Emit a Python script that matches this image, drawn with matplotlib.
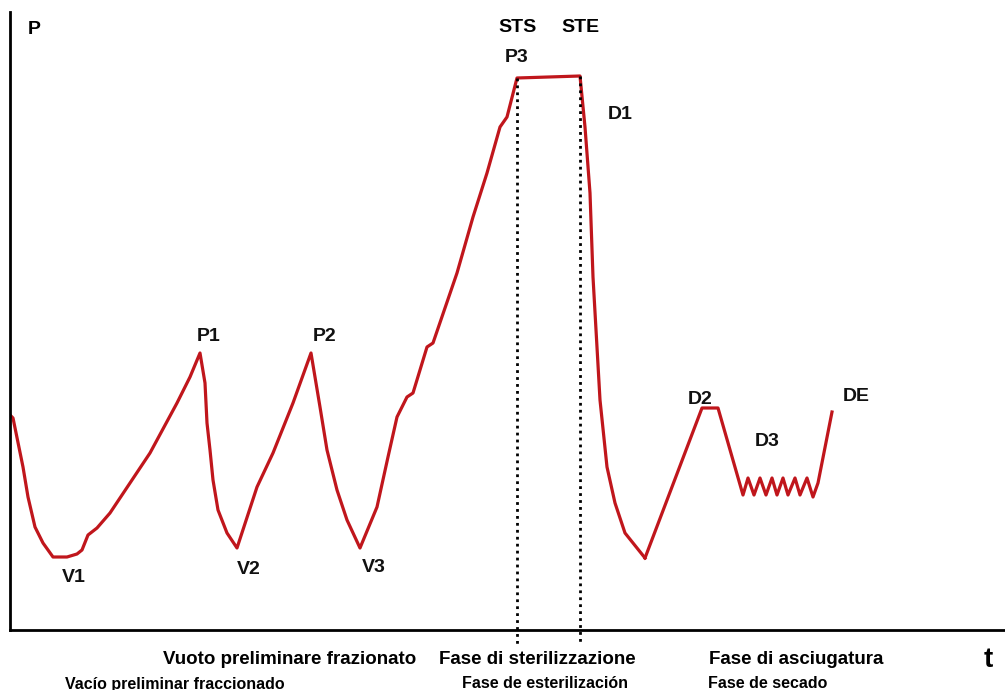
import matplotlib.pyplot as plt

plt.rcParams['font.family'] = ['Liberation Sans', 'DejaVu Sans']

# pressure curve (t, P), arbitrary units
t_curve = [0, 3, 13, 18, 25, 33, 43, 57, 67, 72, 78, 87, 100, 120, 140, 167, 180, 190,
           195, 197, 200, 203, 208, 217, 227,
           247, 263, 283, 301,
           310, 317, 327, 337, 350,
           367, 378, 387, 397, 403, 417, 423, 447, 463, 477, 490, 497, 507,
           570,
           575, 580, 583, 590, 597, 605, 615, 635]
p_curve = [215, 212, 163, 133, 103, 87, 73, 73, 76, 80, 95, 102, 117, 147, 177, 227, 253, 277,
           247, 207, 180, 150, 120, 97, 82,
           143, 177, 227, 277,
           223, 180, 140, 110, 82,
           123, 173, 213, 233, 237, 283, 287, 357, 413, 457, 503, 513, 552,
           554,
           503, 437, 353, 230, 163, 127, 97, 72]

# drying phase: ramp, hold at D2, pulses at D3, rise to DE
t_dry = [635, 692, 708, 733, 738, 744, 750, 756, 762, 767, 773, 778, 785, 790, 797,
         803, 808, 822]
p_dry = [72, 222, 222, 135, 152, 135, 152, 135, 152, 135, 152, 135, 152, 135, 152,
         133, 147, 218]

# phase boundaries (STS, STE) and where they meet the curve
t_marks = [507, 570]
p_marks = [552, 554]

labels_pts = [("P1", 187, 293), ("P2", 303, 293), ("V1", 52, 53), ("V2", 227, 60),
              ("V3", 352, 63), ("P3", 495, 572), ("D1", 598, 515),
              ("D2", 678, 230), ("D3", 745, 188), ("DE", 833, 233)]

fig = plt.figure(figsize=(10.05, 6.9), dpi=100)
ax = fig.add_axes([10 / 1005, 60 / 690, 995 / 1005, 618 / 690])
ax.set_xlim(0, 995)
ax.set_ylim(0, 618)

ax.plot(t_curve, p_curve, color='#c0161c', lw=2.3, solid_joinstyle='round')
ax.plot(t_dry, p_dry, color='#c0161c', lw=2.3, solid_joinstyle='round')
for tm, pt in zip(t_marks, p_marks):
    ax.plot([tm, tm], [pt, -15], color='black', lw=2, ls=(0, (1, 1.5)),
            clip_on=False)

for s in ['top', 'right']:
    ax.spines[s].set_visible(False)
ax.spines['left'].set_linewidth(2)
ax.spines['bottom'].set_linewidth(2)
ax.set_xticks([])
ax.set_yticks([])

# labels on the curve
for txt, x, y in labels_pts:
    ax.text(x, y, txt, fontsize=14, fontweight='bold', color='#111111',
            ha='left', va='center')
ax.text(24, 600, "P", fontsize=14, fontweight='bold', ha='center', va='center')
ax.text(507, 602, "STS", fontsize=14, fontweight='bold', ha='center', va='center')
ax.text(570, 602, "STE", fontsize=14, fontweight='bold', ha='center', va='center')

# phase names below the axis
ax.text(280, -30, "Vuoto preliminare frazionato", fontsize=13.5, fontweight='heavy',
        color='black', ha='center', va='center', clip_on=False)
ax.text(165, -54, "Vacío preliminar fraccionado", fontsize=11.5, fontweight='bold',
        ha='center', va='center', clip_on=False)
ax.text(527, -30, "Fase di sterilizzazione", fontsize=13.5, fontweight='heavy',
        color='black', ha='center', va='center', clip_on=False)
ax.text(535, -53, "Fase de esterilización", fontsize=11.5, fontweight='bold',
        ha='center', va='center', clip_on=False)
ax.text(786, -30, "Fase di asciugatura", fontsize=13.5, fontweight='heavy',
        color='black', ha='center', va='center', clip_on=False)
ax.text(758, -54, "Fase de secado", fontsize=11.5, fontweight='bold',
        ha='center', va='center', clip_on=False)
ax.text(978, -30, "t", fontsize=20, fontweight='bold', ha='center', va='center',
        clip_on=False)

fig.savefig('out.png', dpi=100)
